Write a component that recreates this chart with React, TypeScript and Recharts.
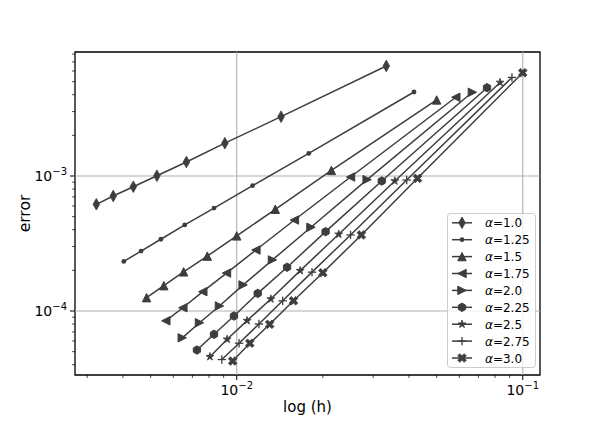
import React from 'react'
import { LineChart, Line, XAxis, YAxis, ReferenceLine, ReferenceArea, Legend, Label } from 'recharts'

// step sizes h and errors (one pair of arrays per alpha)
const alphaLabels = ['1.0', '1.25', '1.5', '1.75', '2.0', '2.25', '2.5', '2.75', '3.0']
const markerKinds = ['thinDiamond', 'point', 'triUp', 'triLeft', 'triRight', 'hexagon', 'star', 'plus', 'xFilled']

const h10 = [0.03333, 0.01429, 0.00909, 0.00667, 0.00526, 0.00435, 0.0037, 0.00323]
const err10 = [6.53e-3, 2.75e-3, 1.75e-3, 1.27e-3, 1.005e-3, 8.33e-4, 7.11e-4, 6.17e-4]

const h125 = [0.04167, 0.01786, 0.01136, 0.00833, 0.00658, 0.00543, 0.00463, 0.00403]
const err125 = [4.19e-3, 1.47e-3, 8.48e-4, 5.79e-4, 4.34e-4, 3.4e-4, 2.78e-4, 2.33e-4]

const h15 = [0.05, 0.02143, 0.01364, 0.01, 0.00789, 0.00652, 0.00556, 0.00484]
const err15 = [3.66e-3, 1.1e-3, 5.67e-4, 3.6e-4, 2.55e-4, 1.95e-4, 1.54e-4, 1.255e-4]

const h175 = [0.05833, 0.025, 0.01591, 0.01167, 0.00921, 0.00761, 0.00648, 0.00565]
const err175 = [3.83e-3, 9.83e-4, 4.72e-4, 2.83e-4, 1.91e-4, 1.39e-4, 1.057e-4, 8.46e-5]

const h20 = [0.06667, 0.02857, 0.01818, 0.01333, 0.01053, 0.0087, 0.00741, 0.00645]
const err20 = [4.17e-3, 9.4e-4, 4.17e-4, 2.39e-4, 1.56e-4, 1.09e-4, 8.19e-5, 6.33e-5]

const h225 = [0.075, 0.03214, 0.02045, 0.015, 0.01184, 0.00978, 0.00833, 0.00726]
const err225 = [4.51e-3, 9.18e-4, 3.87e-4, 2.11e-4, 1.35e-4, 9.18e-5, 6.72e-5, 5.14e-5]

const h25 = [0.08333, 0.03571, 0.02273, 0.01667, 0.01316, 0.01087, 0.00926, 0.00806]
const err25 = [4.93e-3, 9.18e-4, 3.7e-4, 1.99e-4, 1.227e-4, 8.48e-5, 6.17e-5, 4.59e-5]

const h275 = [0.09167, 0.03929, 0.025, 0.01833, 0.01447, 0.01196, 0.01019, 0.00887]
const err275 = [5.37e-3, 9.34e-4, 3.66e-4, 1.94e-4, 1.19e-4, 8.01e-5, 5.77e-5, 4.37e-5]

const h30 = [0.1, 0.04286, 0.02727, 0.02, 0.01579, 0.01304, 0.01111, 0.00968]
const err30 = [5.82e-3, 9.61e-4, 3.66e-4, 1.92e-4, 1.19e-4, 7.97e-5, 5.77e-5, 4.26e-5]

const hAll = [h10, h125, h15, h175, h20, h225, h25, h275, h30]
const errAll = [err10, err125, err15, err175, err20, err225, err25, err275, err30]

const xTicks = [0.003, 0.004, 0.005, 0.006, 0.007, 0.008, 0.009, 0.01, 0.02, 0.03, 0.04, 0.05, 0.06, 0.07, 0.08, 0.09, 0.1]
const xMajor = [0.01, 0.1]
const xMajorLabels = ['−2', '−1']
const yTicks = [
  4e-5, 5e-5, 6e-5, 7e-5, 8e-5, 9e-5, 1e-4, 2e-4, 3e-4, 4e-4, 5e-4, 6e-4, 7e-4, 8e-4, 9e-4,
  1e-3, 2e-3, 3e-3, 4e-3, 5e-3, 6e-3, 7e-3, 8e-3,
]
const yMajor = [1e-4, 1e-3]
const yMajorLabels = ['−4', '−3']

const xDomain = [0.00272, 0.1149]
const yDomain = [3.357e-5, 8.29e-3]

const INK = '#3d3d3d'
const FONT = 'DejaVu Sans'

const series = alphaLabels.map((a, i) => ({
  label: a,
  kind: markerKinds[i],
  data: hAll[i].map((h, j) => ({ h, err: errAll[i][j] })),
}))

function marker(kind: string, cx: number, cy: number, key?: string) {
  const s = 4.2
  switch (kind) {
    case 'thinDiamond':
      return <polygon key={key} points={`${cx},${cy - 5.8} ${cx + 3.3},${cy} ${cx},${cy + 5.8} ${cx - 3.3},${cy}`} fill={INK} stroke={INK} strokeWidth={0.8} />
    case 'point':
      return <circle key={key} cx={cx} cy={cy} r={2.4} fill={INK} />
    case 'triUp':
      return <polygon key={key} points={`${cx},${cy - s} ${cx - s},${cy + s} ${cx + s},${cy + s}`} fill={INK} stroke={INK} strokeWidth={1} />
    case 'triLeft':
      return <polygon key={key} points={`${cx - s},${cy} ${cx + s},${cy - s} ${cx + s},${cy + s}`} fill={INK} stroke={INK} strokeWidth={1} />
    case 'triRight':
      return <polygon key={key} points={`${cx + s},${cy} ${cx - s},${cy - s} ${cx - s},${cy + s}`} fill={INK} stroke={INK} strokeWidth={1} />
    case 'hexagon': {
      const pts = [0, 1, 2, 3, 4, 5]
        .map((k) => {
          const t = -Math.PI / 2 + (k * Math.PI) / 3
          return `${cx + s * Math.cos(t)},${cy + s * Math.sin(t)}`
        })
        .join(' ')
      return <polygon key={key} points={pts} fill={INK} stroke={INK} strokeWidth={1} />
    }
    case 'star': {
      const pts = Array.from({ length: 10 }, (_, k) => {
        const r = k % 2 === 0 ? s : s * 0.382
        const t = -Math.PI / 2 + (k * Math.PI) / 5
        return `${cx + r * Math.cos(t)},${cy + r * Math.sin(t)}`
      }).join(' ')
      return <polygon key={key} points={pts} fill={INK} stroke={INK} strokeWidth={0.8} />
    }
    case 'plus':
      return (
        <g key={key}>
          <line x1={cx - s} x2={cx + s} y1={cy} y2={cy} stroke={INK} strokeWidth={1.3} />
          <line x1={cx} x2={cx} y1={cy - s} y2={cy + s} stroke={INK} strokeWidth={1.3} />
        </g>
      )
    default: {
      const a = 1.5
      const b = 4.6
      const base = [[-a, -b], [a, -b], [a, -a], [b, -a], [b, a], [a, a], [a, b], [-a, b], [-a, a], [-b, a], [-b, -a], [-a, -a]]
      const pts = base.map(([x, y]) => `${cx + (x - y) / Math.SQRT2},${cy + (x + y) / Math.SQRT2}`).join(' ')
      return <polygon key={key} points={pts} fill={INK} stroke={INK} strokeWidth={0.8} />
    }
  }
}

const XTick = (props: any) => {
  const { x, y, payload } = props
  const mi = xMajor.indexOf(payload.value)
  return (
    <g>
      <line x1={x} x2={x} y1={y} y2={y + (mi >= 0 ? 5 : 3)} stroke="#000" strokeWidth={mi >= 0 ? 1 : 0.7} />
      {mi >= 0 && (
        <text x={x} y={y + 20} textAnchor="middle" fontSize={14} fontFamily={FONT} fill="#000">
          10<tspan dy={-6} fontSize={10}>{xMajorLabels[mi]}</tspan>
        </text>
      )}
    </g>
  )
}

const YTick = (props: any) => {
  const { x, y, payload } = props
  const mi = yMajor.indexOf(payload.value)
  return (
    <g>
      <line x1={x} x2={x - (mi >= 0 ? 5 : 3)} y1={y} y2={y} stroke="#000" strokeWidth={mi >= 0 ? 1 : 0.7} />
      {mi >= 0 && (
        <text x={x - 8} y={y + 5} textAnchor="end" fontSize={14} fontFamily={FONT} fill="#000">
          10<tspan dy={-6} fontSize={10}>{yMajorLabels[mi]}</tspan>
        </text>
      )}
    </g>
  )
}

const renderLegend = () => (
  <svg width={89} height={155} style={{ display: 'block' }}>
    <rect x={0.5} y={0.5} width={88} height={154} rx={3} fill="#ffffff" fillOpacity={0.8} stroke="#cccccc" />
    {series.map((s, i) => {
      const cy = 9.8 + i * 16.9
      return (
        <g key={s.label}>
          <line x1={5} x2={25} y1={cy} y2={cy} stroke={INK} strokeWidth={1.5} />
          {marker(s.kind, 15, cy)}
          <text x={38} y={cy + 4.5} fontSize={12} fontFamily={FONT} fill="#000">
            <tspan fontStyle="italic">α</tspan>={s.label}
          </text>
        </g>
      )
    })}
  </svg>
)

export default function App() {
  return (
    <div style={{ position: 'absolute', left: 0, top: 0, width: 600, height: 429, background: '#fff' }}>
      <LineChart width={600} height={429} margin={{ top: 52, right: 60, bottom: 0, left: 0 }}>
        <XAxis
          dataKey="h"
          type="number"
          scale="log"
          domain={xDomain}
          allowDataOverflow
          ticks={xTicks}
          interval={0}
          tick={<XTick />}
          tickLine={false}
          axisLine={false}
          tickSize={0}
          tickMargin={0}
          height={54}
        >
          <Label value="log (h)" position="insideBottom" offset={17} fontSize={15} fontFamily={FONT} fill="#000" />
        </XAxis>
        <YAxis
          dataKey="err"
          type="number"
          scale="log"
          domain={yDomain}
          allowDataOverflow
          ticks={yTicks}
          interval={0}
          tick={<YTick />}
          tickLine={false}
          axisLine={false}
          tickSize={0}
          tickMargin={0}
          width={75}
        >
          <Label value="error" angle={-90} position="insideLeft" offset={24} fontSize={15.5} fontFamily={FONT} fill="#000" style={{ textAnchor: 'middle' }} />
        </YAxis>
        {xMajor.map((v) => (
          <ReferenceLine key={`vx${v}`} x={v} stroke="#b0b0b0" strokeWidth={1.1} />
        ))}
        {yMajor.map((v) => (
          <ReferenceLine key={`hy${v}`} y={v} stroke="#b0b0b0" strokeWidth={1.1} />
        ))}
        {series.map((s) => (
          <Line
            key={s.label}
            data={s.data}
            dataKey="err"
            type="linear"
            stroke={INK}
            strokeWidth={1.5}
            isAnimationActive={false}
            dot={(p: any) => marker(s.kind, p.cx, p.cy, `${s.label}-${p.index}`)}
            activeDot={false}
          />
        ))}
        <ReferenceArea x1={xDomain[0]} x2={xDomain[1]} y1={yDomain[0]} y2={yDomain[1]} fill="none" stroke="#000" strokeWidth={1.3} />
        <Legend
          content={renderLegend}
          layout="vertical"
          align="center"
          verticalAlign="middle"
          wrapperStyle={{ left: 447, top: 213, width: 89, height: 155 }}
        />
      </LineChart>
    </div>
  )
}
